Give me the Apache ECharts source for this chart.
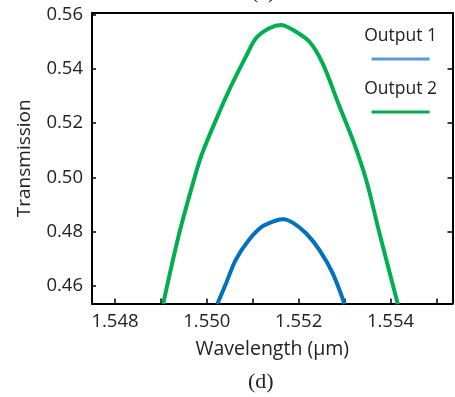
<!DOCTYPE html>
<html>
<head>
<meta charset="utf-8">
<script src="https://cdn.jsdelivr.net/npm/echarts@6/dist/echarts.min.js"></script>
<style>
  html, body { margin: 0; padding: 0; background: #ffffff; }
  #chart { width: 455px; height: 397px; }
</style>
</head>
<body>
<div id="chart"></div>
<script>
// Output 1 transmission around the resonance
const output1Wavelength = [1.55023, 1.55042, 1.55063, 1.55092, 1.55121, 1.55151, 1.55167, 1.55187, 1.55216, 1.55245, 1.55274, 1.55300];
const output1Transmission = [0.4533, 0.4610, 0.4696, 0.4770, 0.4819, 0.4841, 0.4846, 0.4833, 0.4794, 0.4733, 0.4647, 0.4533];

// Output 2 transmission
const output2Wavelength = [1.54905, 1.54940, 1.54976, 1.54990, 1.55020, 1.55049, 1.55085, 1.55107, 1.55136, 1.55162, 1.55187, 1.55223, 1.55252, 1.55289, 1.55318, 1.55347, 1.55376, 1.55416];
const output2Transmission = [0.4534, 0.4794, 0.5015, 0.5089, 0.5212, 0.5323, 0.5445, 0.5513, 0.5550, 0.5562, 0.5544, 0.5501, 0.5421, 0.5261, 0.5138, 0.4991, 0.4794, 0.4532];

// Labelled ticks and tick marks
const xTickLabels = [1.548, 1.550, 1.552, 1.554];
const xTickMarks = [1.548, 1.549, 1.550, 1.551, 1.552, 1.553, 1.554, 1.555];
const yTickLabels = [0.46, 0.48, 0.50, 0.52, 0.54, 0.56];

const seriesNames = ['Output 1', 'Output 2'];
const curveColors = ['#0070C0', '#00B050'];
const legendColors = ['#5B9BD5', '#00B050'];

const FONT = '"Open Sans", "Noto Sans", sans-serif';
const INK = '#222222';

function pairs(xs, ys) { return xs.map((x, i) => [x, ys[i]]); }

const chart = echarts.init(document.getElementById('chart'), null, { renderer: 'canvas' });

const X_MIN = 1.5475, X_MAX = 1.55535;
const Y_MIN = 0.4535, Y_MAX = 0.5606;

const frameLine = { show: true, lineStyle: { color: '#000', width: 2 } };

chart.setOption({
  animation: false,
  backgroundColor: '#ffffff',
  grid: { left: 92, right: 2.5, top: 13, bottom: 93.5, containLabel: false },
  legend: {
    orient: 'vertical',
    right: 13,
    top: 22,
    itemGap: 15,
    itemWidth: 0,
    itemHeight: 0,
    icon: 'none',
    selectedMode: false,
    data: seriesNames.map(n => ({ name: n, icon: 'none' })),
    formatter: function (name) {
      const k = seriesNames.indexOf(name) + 1;
      return '{t|' + name + '}\n{l' + k + '|}';
    },
    textStyle: {
      rich: {
        t: { fontFamily: FONT, fontSize: 17.5, color: INK, align: 'center', lineHeight: 24 },
        l1: { width: 58, height: 3, backgroundColor: legendColors[0], align: 'center', lineHeight: 22 },
        l2: { width: 58, height: 3, backgroundColor: legendColors[1], align: 'center', lineHeight: 22 }
      }
    }
  },
  xAxis: [
    {
      type: 'value', min: X_MIN, max: X_MAX,
      name: 'Wavelength (\u03bcm)', nameLocation: 'middle', nameGap: 36,
      nameTextStyle: { fontFamily: FONT, fontSize: 19.5, color: INK },
      axisLine: frameLine,
      axisTick: { show: true, inside: true, length: 5, customValues: xTickMarks, lineStyle: { color: '#000', width: 1.5 } },
      axisLabel: { customValues: xTickLabels, formatter: v => v.toFixed(3), fontFamily: FONT, fontSize: 18.5, color: INK, margin: 9 },
      splitLine: { show: false }
    },
    {
      type: 'value', position: 'top', min: X_MIN, max: X_MAX,
      axisLine: frameLine,
      axisTick: { show: false }, axisLabel: { show: false }, splitLine: { show: false }
    }
  ],
  yAxis: [
    {
      type: 'value', min: Y_MIN, max: Y_MAX,
      name: 'Transmission', nameLocation: 'middle', nameGap: 58,
      nameTextStyle: { fontFamily: FONT, fontSize: 19, color: INK },
      axisLine: frameLine,
      axisTick: { show: true, inside: true, length: 4, customValues: yTickLabels, lineStyle: { color: '#000', width: 1.5 } },
      axisLabel: { customValues: yTickLabels, formatter: v => v.toFixed(2), fontFamily: FONT, fontSize: 18.5, color: INK, margin: 9 },
      splitLine: { show: false }
    },
    {
      type: 'value', position: 'right', min: Y_MIN, max: Y_MAX,
      axisLine: frameLine,
      axisTick: { show: true, inside: true, length: 5, customValues: yTickLabels.slice(1, 5), lineStyle: { color: '#000', width: 1.5 } },
      axisLabel: { show: false }, splitLine: { show: false }
    }
  ],
  series: [
    {
      name: seriesNames[0], type: 'line', xAxisIndex: 0, yAxisIndex: 0,
      data: pairs(output1Wavelength, output1Transmission),
      showSymbol: false, smooth: 0.3, clip: true,
      lineStyle: { color: curveColors[0], width: 4 },
      itemStyle: { color: legendColors[0] }
    },
    {
      name: seriesNames[1], type: 'line', xAxisIndex: 0, yAxisIndex: 0,
      data: pairs(output2Wavelength, output2Transmission),
      showSymbol: false, smooth: 0.3, clip: true,
      lineStyle: { color: curveColors[1], width: 4 },
      itemStyle: { color: legendColors[1] }
    }
  ],
  graphic: [
    {
      type: 'text', left: 248, top: 371,
      style: { text: '(d)', font: '22px "Liberation Serif", "DejaVu Serif", serif', fill: INK }
    },
    {
      type: 'text', left: 251, top: -19,
      style: { text: '(c)', font: '22px "Liberation Serif", "DejaVu Serif", serif', fill: INK }
    }
  ]
});
</script>
</body>
</html>
